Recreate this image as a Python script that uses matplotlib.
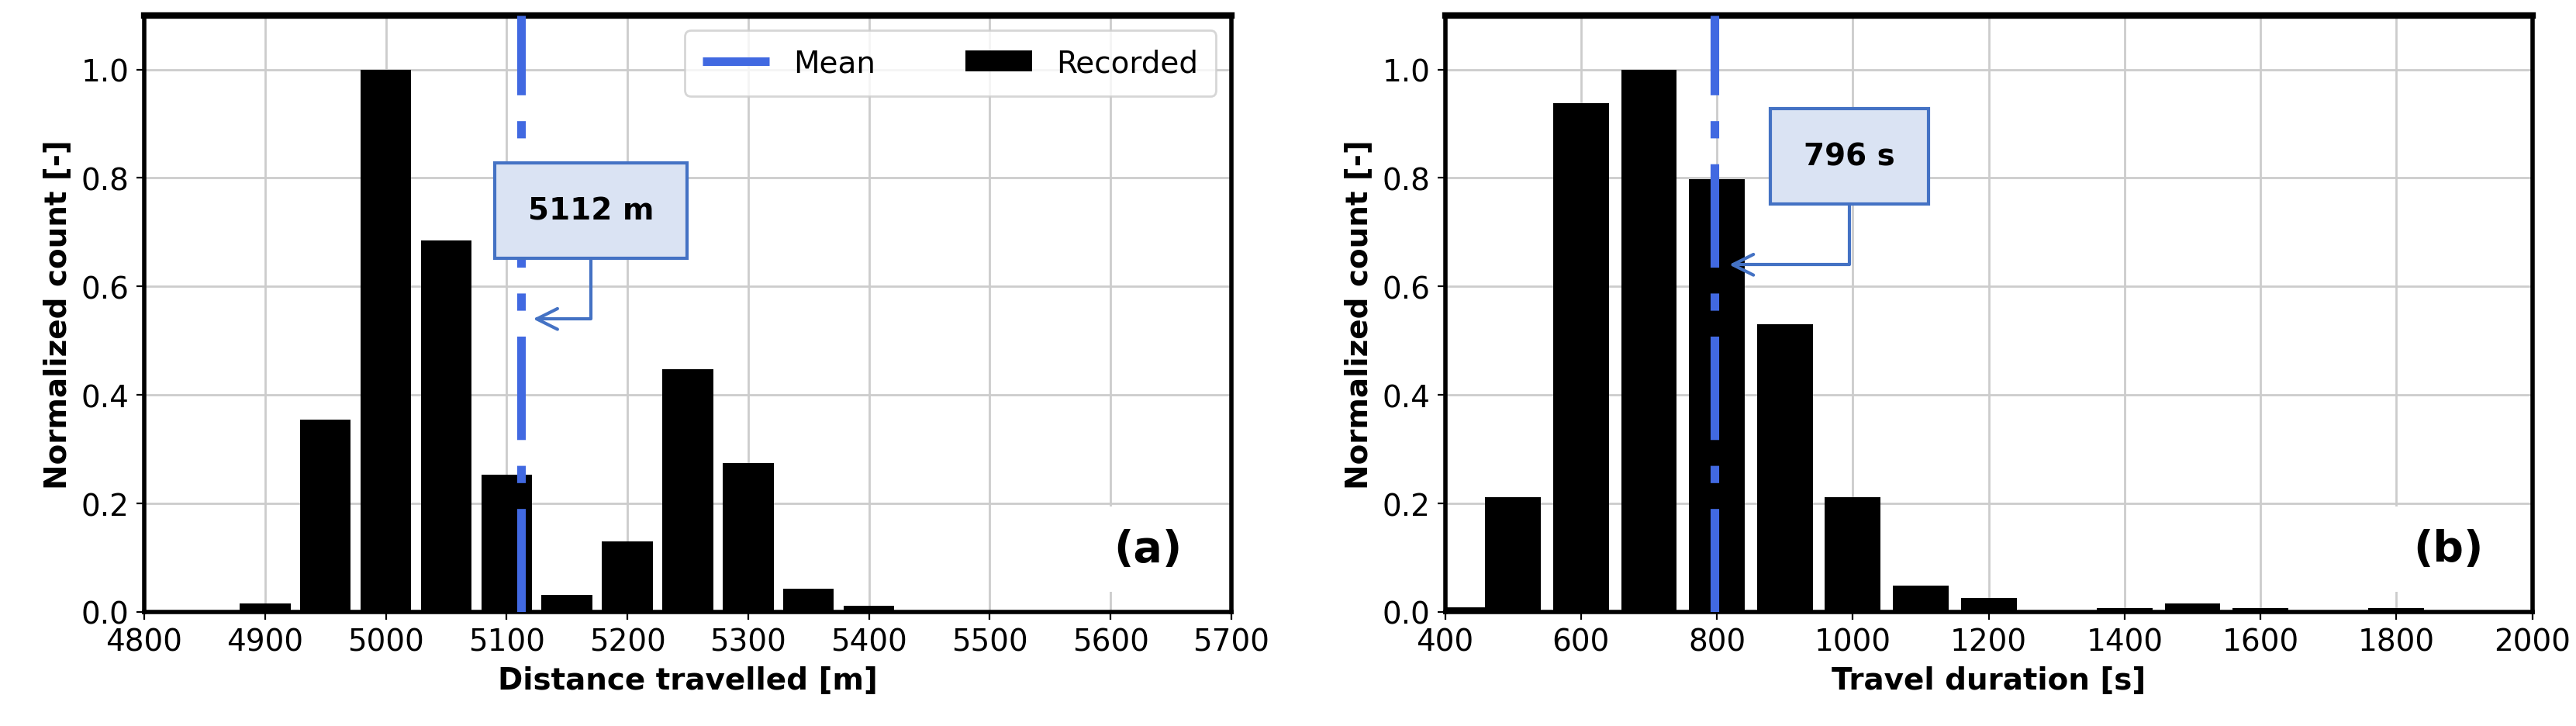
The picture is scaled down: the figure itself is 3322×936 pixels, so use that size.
import matplotlib
matplotlib.use("Agg")
import matplotlib.pyplot as plt

dist_centers = [4850, 4900, 4950, 5000, 5050, 5100, 5150, 5200, 5250, 5300, 5350, 5400, 5450, 5500, 5550, 5600]
dist_values = [0.003, 0.015, 0.355, 1.0, 0.685, 0.253, 0.032, 0.130, 0.448, 0.275, 0.043, 0.011, 0.003, 0.003, 0.002, 0.002]
dist_mean = 5112
dur_centers = [420, 500, 600, 700, 800, 900, 1000, 1100, 1200, 1300, 1400, 1500, 1600, 1700, 1800]
dur_values = [0.008, 0.212, 0.938, 1.0, 0.798, 0.530, 0.212, 0.048, 0.025, 0.003, 0.007, 0.016, 0.007, 0.003, 0.007]
dur_mean = 796

fig = plt.figure(figsize=(16.61, 4.685), dpi=200)
ax1 = fig.add_axes([0.056, 0.157, 0.422, 0.821])
ax2 = fig.add_axes([0.561, 0.157, 0.422, 0.821])

DASH = (0, (12, 3, 2, 3))

def style(ax, xlim, xticks, xlabel, tag):
    ax.set_xlim(*xlim); ax.set_ylim(0, 1.1)
    ax.set_xticks(xticks)
    ax.set_yticks([0, 0.2, 0.4, 0.6, 0.8, 1.0])
    ax.grid(True, color='#cccccc', linewidth=1)
    ax.set_axisbelow(True)
    for s in ax.spines.values():
        s.set_linewidth(2); s.set_color('black')
    ax.spines['top'].set_linewidth(3)
    ax.tick_params(labelsize=14)
    ax.set_ylabel('Normalized count [-]', fontsize=14, fontweight='bold')
    ax.set_xlabel(xlabel, fontsize=14, fontweight='bold')
    ax.text(0.955, 0.07, tag, transform=ax.transAxes, fontsize=20, fontweight='bold',
            ha='right', va='bottom', bbox=dict(facecolor='white', edgecolor='none', pad=10))

ax1.bar(dist_centers, dist_values, width=42, color='black', label='Recorded', zorder=2)
ax1.axvline(dist_mean, color='royalblue', linestyle=DASH, linewidth=4, label='Mean', zorder=3)
style(ax1, (4800, 5700), range(4800, 5701, 100), 'Distance travelled [m]', '(a)')
h, l = ax1.get_legend_handles_labels()
ax1.legend(h, l, ncol=2, loc='upper right', fontsize=14, handlelength=2.2, columnspacing=3, borderpad=0.6)
ax1.annotate(f'{dist_mean} m', xy=(5122, 0.54), xytext=(5170, 0.74), fontsize=14, fontweight='bold',
             ha='center', va='center', zorder=5,
             bbox=dict(boxstyle='square,pad=1.1', facecolor='#dae3f3', edgecolor='#4472c4', linewidth=1.5),
             arrowprops=dict(arrowstyle='->', color='#4472c4', linewidth=1.5, mutation_scale=24,
                             connectionstyle='angle,angleA=90,angleB=0,rad=0', shrinkA=0, shrinkB=0))

ax2.bar(dur_centers, dur_values, width=82, color='black', zorder=2)
ax2.axvline(dur_mean, color='royalblue', linestyle=DASH, linewidth=4, zorder=3)
style(ax2, (400, 2000), range(400, 2001, 200), 'Travel duration [s]', '(b)')
ax2.annotate(f'{dur_mean} s', xy=(818, 0.64), xytext=(995, 0.84), fontsize=14, fontweight='bold',
             ha='center', va='center', zorder=5,
             bbox=dict(boxstyle='square,pad=1.1', facecolor='#dae3f3', edgecolor='#4472c4', linewidth=1.5),
             arrowprops=dict(arrowstyle='->', color='#4472c4', linewidth=1.5, mutation_scale=24,
                             connectionstyle='angle,angleA=90,angleB=0,rad=0', shrinkA=0, shrinkB=0))

fig.savefig('out.png', dpi=200)
